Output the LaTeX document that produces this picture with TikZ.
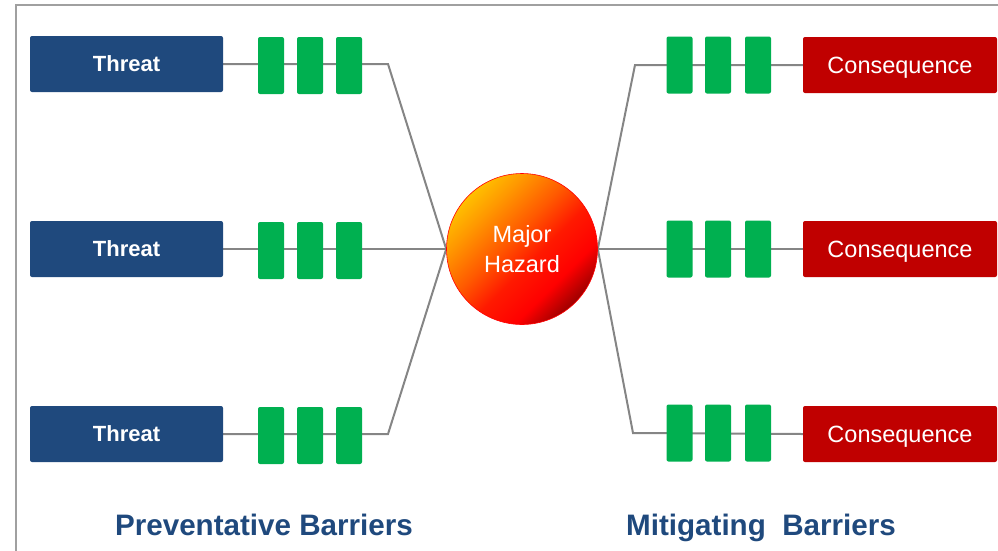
\documentclass[tikz,border=0pt]{standalone}
\usepackage{fontspec}
\setmainfont{Liberation Sans}
\usetikzlibrary{backgrounds}
\definecolor{threatblue}{HTML}{1F497D}
\definecolor{bargreen}{HTML}{00B050}
\definecolor{consred}{HTML}{C00000}
\definecolor{linegray}{HTML}{858585}
\definecolor{framegray}{HTML}{A0A0A0}
\pgfdeclareverticalshading{hazshade}{100bp}{%
  rgb(0bp)=(0.55,0,0);
  rgb(25bp)=(0.62,0,0);
  rgb(34bp)=(1,0,0);
  rgb(45bp)=(1,0.1,0);
  rgb(55bp)=(1,0.35,0);
  rgb(67bp)=(1,0.6,0);
  rgb(75bp)=(1,0.75,0);
  rgb(100bp)=(1,0.75,0)}
\begin{document}
\begin{tikzpicture}[x=1pt,y=-1pt,
  threatbox/.style={fill=threatblue, rounded corners=2pt, minimum width=193pt, minimum height=56pt, inner sep=0pt, text depth=0pt, text=white, font=\fontsize{22}{26}\selectfont\bfseries},
  consbox/.style={fill=consred, rounded corners=2pt, minimum width=194pt, minimum height=56pt, inner sep=0pt, text depth=0pt, text=white, font=\fontsize{23.5}{26}\selectfont},
  barrier/.style={fill=bargreen, rounded corners=2pt, minimum width=26pt, minimum height=57pt, inner sep=0pt},
  link/.style={draw=linegray, line width=2pt},
  grouptitle/.style={text=threatblue, anchor=base, inner sep=0pt, font=\fontsize{29.6}{34}\selectfont\bfseries},
  hazard/.style={circle, minimum size=151pt, inner sep=0pt, draw=red, line width=0.6pt, shading=hazshade, shading angle=45, text=white, align=center, font=\fontsize{23.5}{30}\selectfont}
]
\useasboundingbox (0,0) rectangle (998,550);

% threats
\node[threatbox] (t1) at (126.5,64) {Threat};
\node[threatbox] (t2) at (126.5,249) {Threat};
\node[threatbox] (t3) at (126.5,434) {Threat};

% consequences
\node[consbox] (c1) at (900,65) {Consequence};
\node[consbox] (c2) at (900,249) {Consequence};
\node[consbox] (c3) at (900,434) {Consequence};

% hazard
\node[hazard] (h) at (522,249) {Major\\Hazard};

% preventative barriers
\foreach \r/\y in {1/65.5, 2/250.5, 3/435.5} {
  \node[barrier] (pl\r a) at (271,\y) {};
  \node[barrier] (pl\r b) at (310,\y) {};
  \node[barrier] (pl\r c) at (349,\y) {};
}
% mitigating barriers
\foreach \r/\y in {1/65, 2/249, 3/433} {
  \node[barrier] (mr\r a) at (679.5,\y) {};
  \node[barrier] (mr\r b) at (718,\y) {};
  \node[barrier] (mr\r c) at (758,\y) {};
}

\coordinate (kl1) at (388,64);
\coordinate (kl3) at (388,434);
\coordinate (kr1) at (635,65);
\coordinate (kr3) at (633,433);

\begin{pgfonlayer}{background}
  \draw[framegray, line width=2pt] (16,552) -- (16,5) -- (1000,5);
  \draw[link] (t1.east) -- (kl1) -- (h.west);
  \draw[link] (t2.east) -- (h.west);
  \draw[link] (t3.east) -- (kl3) -- (h.west);
  \draw[link] (h.east) -- (kr1) -- (c1.west);
  \draw[link] (h.east) -- (c2.west);
  \draw[link] (h.east) -- (kr3) -- (c3.west);
\end{pgfonlayer}

\node[grouptitle] (pb) at (264,535) {Preventative Barriers};
\node[grouptitle] (mb) at (761,535) {Mitigating\ \ Barriers};
\end{tikzpicture}
\end{document}
